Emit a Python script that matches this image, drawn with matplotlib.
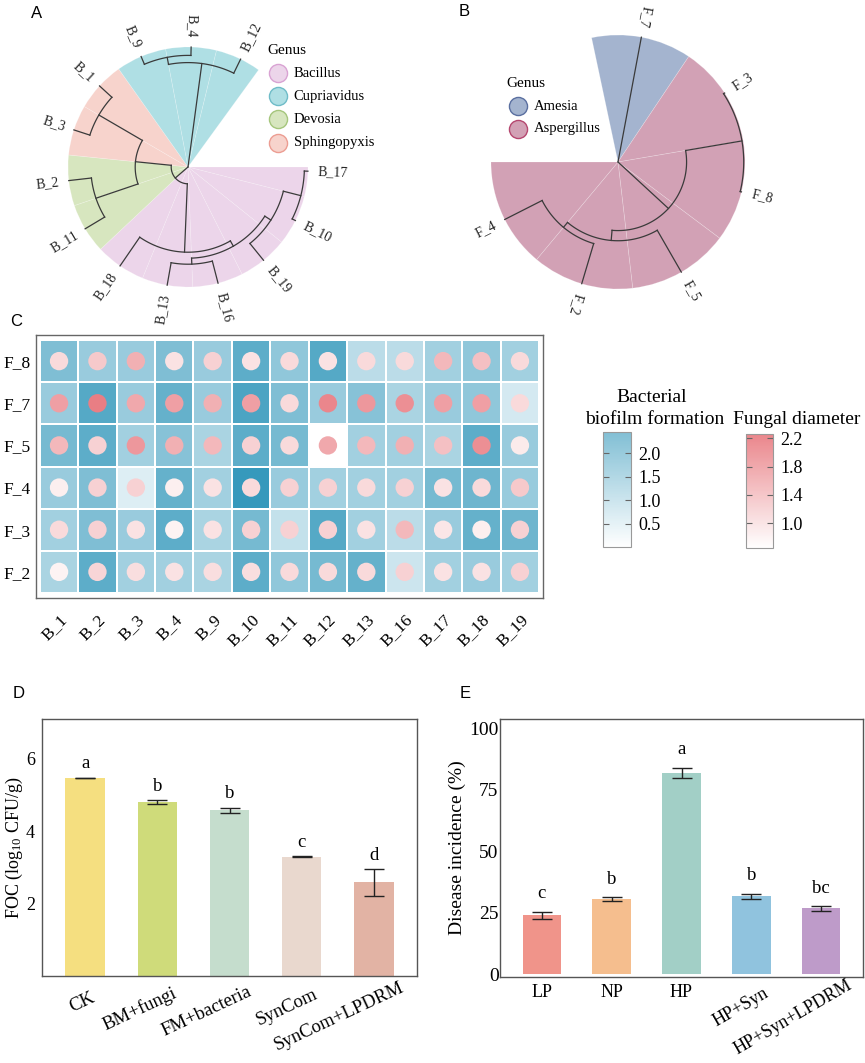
import numpy as np
import matplotlib
matplotlib.use("Agg")
import matplotlib.pyplot as plt
import matplotlib.transforms as mtransforms
from matplotlib.patches import Wedge
from matplotlib.colors import LinearSegmentedColormap, Normalize
from matplotlib.cm import ScalarMappable

plt.rcParams['font.family'] = 'Liberation Serif'
plt.rcParams['mathtext.fontset'] = 'custom'
plt.rcParams['mathtext.rm'] = 'Liberation Serif'
plt.rcParams['mathtext.it'] = 'Liberation Serif:italic'

# ---------------- data ----------------
# A: bacterial tree (leaves clockwise from the east)
bac_leaves = ["B_17", "B_10", "B_19", "B_16", "B_13", "B_18", "B_11", "B_2",
              "B_3", "B_1", "B_9", "B_4", "B_12"]
bac_genus = ["Bacillus"] * 6 + ["Devosia"] * 2 + ["Sphingopyxis"] * 2 + ["Cupriavidus"] * 3
bac_genera = ["Bacillus", "Cupriavidus", "Devosia", "Sphingopyxis"]
bac_fill = ["#ecd5ea", "#afdfe4", "#d7e6bf", "#f7d3cc"]
bac_edge = ["#d9a3d3", "#6fbcc8", "#a5c67c", "#ec9d92"]
# (node, child1, child2, radius of the join)
bac_merges = [
    ("n1", "B_17", "B_10", 0.97),
    ("n2", "n1", "B_19", 0.82),
    ("n3", "B_16", "B_13", 0.81),
    ("n4", "n2", "n3", 0.76),
    ("n5", "n4", "B_18", 0.71),
    ("n6", "B_11", "B_2", 0.81),
    ("n7", "B_3", "B_1", 0.86),
    ("n8", "n6", "n7", 0.44),
    ("n9", "n5", "n8", 0.14),
    ("n10", "B_9", "B_4", 0.93),
    ("n11", "n10", "B_12", 0.87),
    ("root", "n9", "n11", 0.0),
]

# B: fungal tree
fun_leaves = ["F_7", "F_3", "F_8", "F_5", "F_2", "F_4"]
fun_genus = ["Amesia", "Aspergillus", "Aspergillus", "Aspergillus", "Aspergillus", "Aspergillus"]
fun_genera = ["Amesia", "Aspergillus"]
fun_fill = ["#a4b4cf", "#d2a1b5"]
fun_edge = ["#5a6fa0", "#b5476f"]
fun_merges = [
    ("m1", "F_3", "F_8", 0.99),
    ("m2", "F_2", "F_4", 0.67),
    ("m3", "F_5", "m2", 0.62),
    ("m4", "m1", "m3", 0.54),
    ("root", "F_7", "m4", 0.0),
]

# C: heatmap (rows top to bottom, columns left to right)
rows = ["F_8", "F_7", "F_5", "F_4", "F_3", "F_2"]
cols = ["B_1", "B_2", "B_3", "B_4", "B_9", "B_10", "B_11", "B_12", "B_13",
        "B_16", "B_17", "B_18", "B_19"]
biofilm = np.array([
    [1.5, 1.2, 1.2, 1.5, 1.2, 1.9, 1.3, 2.0, 0.8, 0.8, 1.1, 1.3, 1.1],
    [1.2, 2.0, 1.2, 1.8, 1.2, 2.1, 1.5, 1.2, 1.4, 1.0, 1.2, 1.3, 0.5],
    [1.6, 1.9, 1.1, 1.4, 1.0, 1.9, 1.6, 0.0, 1.1, 1.1, 1.0, 1.9, 1.2],
    [1.2, 1.5, 0.4, 1.8, 1.1, 2.35, 1.2, 1.1, 1.1, 1.1, 1.6, 1.7, 1.2],
    [1.1, 1.5, 1.2, 1.9, 1.0, 1.6, 0.7, 2.0, 1.1, 0.8, 1.2, 1.8, 1.7],
    [1.0, 1.9, 1.1, 1.1, 1.0, 1.9, 1.3, 1.6, 1.8, 0.6, 1.1, 1.2, 1.1],
])
fungal = np.array([
    [1.1, 1.3, 1.6, 1.0, 1.2, 1.0, 1.1, 1.0, 1.1, 1.1, 1.5, 1.4, 1.1],
    [1.8, 2.2, 1.7, 1.8, 1.6, 1.8, 1.1, 2.1, 1.9, 2.0, 1.8, 1.8, 1.1],
    [1.5, 1.2, 1.9, 1.6, 1.5, 1.2, 1.1, 1.7, 1.5, 1.6, 1.4, 2.0, 0.9],
    [0.85, 1.2, 1.2, 0.85, 1.0, 1.1, 1.2, 1.2, 1.1, 1.2, 1.0, 1.1, 1.3],
    [1.1, 1.2, 1.0, 0.8, 1.0, 1.2, 1.2, 1.2, 1.0, 1.5, 0.95, 0.85, 1.2],
    [0.8, 1.15, 1.05, 1.0, 1.05, 1.05, 1.1, 1.1, 1.1, 1.2, 1.0, 1.0, 1.2],
])

# D: FOC
foc_groups = ["CK", "BM+fungi", "FM+bacteria", "SynCom", "SynCom+LPDRM"]
foc_mean = [5.46, 4.80, 4.57, 3.29, 2.58]
foc_err = [0.01, 0.05, 0.07, 0.01, 0.36]
foc_letters = ["a", "b", "b", "c", "d"]
foc_colors = ["#f5df80", "#cfdb7a", "#c5ddcd", "#e9d8ce", "#e2b3a4"]

# E: disease incidence
dis_groups = ["LP", "NP", "HP", "HP+Syn", "HP+Syn+LPDRM"]
dis_mean = [23.9, 30.4, 81.8, 31.6, 26.7]
dis_err = [1.4, 0.8, 2.0, 1.0, 0.9]
dis_letters = ["c", "b", "a", "b", "bc"]
dis_colors = ["#f0948a", "#f5be8e", "#a2cfc6", "#90c3de", "#be9bc9"]

# ---------------- figure ----------------
W, H = 865, 1063
fig = plt.figure(figsize=(W / 100, H / 100), dpi=100)


def px_axes(x0, y0, x1, y1):
    return fig.add_axes([x0 / W, 1 - y1 / H, (x1 - x0) / W, (y1 - y0) / H])


def tree_axes(x0, y0, x1, y1, cx, cy, sc):
    ax = px_axes(x0, y0, x1, y1)
    ax.set_xlim((x0 - cx) / sc, (x1 - cx) / sc)
    ax.set_ylim((cy - y1) / sc, (cy - y0) / sc)
    ax.axis('off')
    return ax


def draw_tree(ax, leaves, genus, genera, fills, merges, start, step, edge_hi, edge_lo, flip_off):
    n = len(leaves)
    leaf_ang = [start - i * step for i in range(n)]
    edges = [edge_hi] + [(leaf_ang[i] + leaf_ang[i + 1]) / 2 for i in range(n - 1)] + [edge_lo]
    ang, rad = {}, {}
    for i, lf in enumerate(leaves):
        ang[lf], rad[lf] = leaf_ang[i], 1.0
        ax.add_patch(Wedge((0, 0), 1.0, edges[i + 1], edges[i],
                           facecolor=fills[genera.index(genus[i])],
                           edgecolor=(1, 1, 1, 0.25), lw=0.5))
    for node, c1, c2, r in merges:
        ang[node] = (ang[c1] + ang[c2]) / 2
        rad[node] = r
        t = np.radians(np.linspace(ang[c1], ang[c2], 80))
        ax.plot(r * np.cos(t), r * np.sin(t), color="#3a3a3a", lw=0.9)
        for ch in (c1, c2):
            t = np.radians(ang[ch])
            ax.plot([r * np.cos(t), rad[ch] * np.cos(t)],
                    [r * np.sin(t), rad[ch] * np.sin(t)], color="#3a3a3a", lw=0.9)
    for lf in leaves:
        a = ang[lf]
        flip = 90 < (a + flip_off) % 360 < 270
        rot = a + 180 if flip else a
        rot = (rot + 180) % 360 - 180
        t = np.radians(a)
        ax.text(1.08 * np.cos(t), 1.08 * np.sin(t), lf, rotation=rot,
                rotation_mode='anchor', ha='right' if flip else 'left',
                va='center', fontsize=10, color="#222")


def draw_legend(ax, x, y, dy, genera, fills, edges):
    ax.text(x - 0.02, y + dy, "Genus", fontsize=11, va='center', ha='left')
    for k, g in enumerate(genera):
        yy = y - k * dy
        ax.scatter([x + 0.07], [yy], s=170, facecolor=fills[k], edgecolor=edges[k], lw=1)
        ax.text(x + 0.2, yy, g, fontsize=10.5, va='center', ha='left')


def x_labels(ax, labels, rots, h, pad_px, fs):
    # ggplot-like rotated labels: anchored at fraction h of their width
    rend = fig.canvas.get_renderer()
    base = ax.get_xaxis_transform()
    for i, (lab, rot) in enumerate(zip(labels, rots)):
        if rot == 0:
            off = mtransforms.ScaledTranslation(0, -7 / 100, fig.dpi_scale_trans)
            ax.text(i, 0, lab, transform=base + off, ha='center', va='top', fontsize=fs)
            continue
        tmp = ax.text(0, 0, lab, fontsize=fs)
        w = tmp.get_window_extent(renderer=rend).width
        tmp.remove()
        r = np.radians(rot)
        dx = (1 - h) * w * np.cos(r)
        dy = (1 - h) * w * np.sin(r) - pad_px
        off = mtransforms.ScaledTranslation(dx / 100, dy / 100, fig.dpi_scale_trans)
        ax.text(i, 0, lab, transform=base + off, rotation=rot, rotation_mode='anchor',
                ha='right', va='top', fontsize=fs)


# A
axA = tree_axes(0, 0, 430, 310, 188, 167, 120)
draw_tree(axA, bac_leaves, bac_genus, bac_genera, bac_fill, bac_merges,
          -2, 24.5, 0, -306, 5)
draw_legend(axA, 0.68, 0.78, 0.192, bac_genera, bac_fill, bac_edge)

# B
axB = tree_axes(430, 0, 865, 310, 618, 162, 127)
draw_tree(axB, fun_leaves, fun_genus, fun_genera, fun_fill, fun_merges,
          79.4, 46.5, 102, -180, 30)
draw_legend(axB, -0.86, 0.44, 0.18, fun_genera, fun_fill, fun_edge)

# C heatmap
blue_cmap = LinearSegmentedColormap.from_list("bl", ["#ffffff", "#2e95b9"])
red_cmap = LinearSegmentedColormap.from_list("rd", ["#ffffff", "#e8797f"])
bnorm = Normalize(0, 2.45)
rnorm = Normalize(0.65, 2.26)

axC = px_axes(36, 335, 543, 598)
axC.pcolormesh(np.arange(len(cols) + 1), np.arange(len(rows) + 1), biofilm,
               cmap=blue_cmap, norm=bnorm, edgecolors='white', linewidth=1.3)
xx, yy = np.meshgrid(np.arange(len(cols)) + 0.5, np.arange(len(rows)) + 0.5)
axC.scatter(xx.ravel(), yy.ravel(), c=fungal.ravel(), cmap=red_cmap, norm=rnorm,
            s=175, linewidths=0)
axC.set_xlim(-0.1, len(cols) + 0.1)
axC.set_ylim(len(rows) + 0.12, -0.12)
axC.set_xticks(np.arange(len(cols)) + 0.5)
axC.set_xticklabels(cols, rotation=45, ha='right', va='top', rotation_mode='anchor')
axC.set_yticks(np.arange(len(rows)) + 0.5)
axC.set_yticklabels(rows)
axC.tick_params(length=0, labelsize=12.5, pad=4)
axC.tick_params(axis='x', pad=10)
for sp in axC.spines.values():
    sp.set_color('#666')
    sp.set_linewidth(1.0)
fig.text(16 / W, 1 - 322 / H, "C", family='Liberation Sans', fontsize=12, ha='center', va='center')

# colorbars
cax1 = px_axes(603, 432, 631, 547)
cb1 = fig.colorbar(ScalarMappable(norm=bnorm, cmap=blue_cmap), cax=cax1,
                   ticks=[0.5, 1.0, 1.5, 2.0], alpha=0.6)
cax2 = px_axes(746, 434, 773, 548)
cb2 = fig.colorbar(ScalarMappable(norm=rnorm, cmap=red_cmap), cax=cax2,
                   ticks=[1.0, 1.4, 1.8, 2.2], alpha=0.9)
for cb, cax in ((cb1, cax1), (cb2, cax2)):
    cb.outline.set_edgecolor('#999')
    cb.outline.set_linewidth(0.8)
    cax.tick_params(direction='in', left=True, right=True, length=4, width=0.8,
                    color='#666', labelsize=13, pad=5)
fig.text(652 / W, 1 - 398 / H, "Bacterial", fontsize=14, ha='center', va='center')
fig.text(655 / W, 1 - 419 / H, "biofilm formation", fontsize=14, ha='center', va='center')
fig.text(797 / W, 1 - 420 / H, "Fungal diameter", fontsize=14, ha='center', va='center')


def bar_panel(ax, groups, means, errs, letters, colors, ylim, yticks, off):
    x = np.arange(len(groups))
    ax.bar(x, means, width=0.55, color=colors, zorder=2)
    ax.errorbar(x, means, yerr=errs, fmt='none', ecolor='#222', elinewidth=1,
                capsize=7, capthick=1, zorder=3)
    for xi, m, e, l in zip(x, means, errs, letters):
        ax.annotate(l, (xi, m + e), xytext=(0, off), textcoords='offset points',
                    ha='center', va='bottom', fontsize=13.5)
    ax.set_xlim(-0.6, len(groups) - 0.4)
    ax.set_ylim(*ylim)
    ax.set_yticks(yticks)
    ax.set_xticks(x)
    ax.set_xticklabels([])
    for sp in ax.spines.values():
        sp.set_color('#555')
        sp.set_linewidth(1.0)
    ax.tick_params(length=0, labelsize=13)
    return x


# D
axD = px_axes(42, 719, 417, 976)
bar_panel(axD, foc_groups, foc_mean, foc_err, foc_letters, foc_colors, (0, 7.09), [2, 4, 6], 4)
x_labels(axD, foc_groups, [25] * 5, 0.8, 15, 13.5)
axD.tick_params(axis='y', pad=5)
axD.set_ylabel("FOC (log$_{10}$ CFU/g)", fontsize=13, labelpad=1)
fig.text(19 / W, 1 - 694 / H, "D", family='Liberation Sans', fontsize=12, ha='center', va='center')

# E
axE = px_axes(500, 719, 863, 977)
bar_panel(axE, dis_groups, dis_mean, dis_err, dis_letters, dis_colors, (-1.2, 103.8), [0, 25, 50, 75, 100], 7)
x_labels(axE, dis_groups, [0, 0, 0, 30, 30], 0.78, 14, 13)
axE.tick_params(axis='y', pad=1, labelsize=14)
axE.set_ylabel("Disease incidence (%)", fontsize=14, labelpad=2)
fig.text(465 / W, 1 - 694 / H, "E", family='Liberation Sans', fontsize=12, ha='center', va='center')

fig.text(37 / W, 1 - 14 / H, "A", family='Liberation Sans', fontsize=12, ha='center', va='center')
fig.text(464 / W, 1 - 11 / H, "B", family='Liberation Sans', fontsize=12, ha='center', va='center')

fig.savefig("out.png", dpi=100)
